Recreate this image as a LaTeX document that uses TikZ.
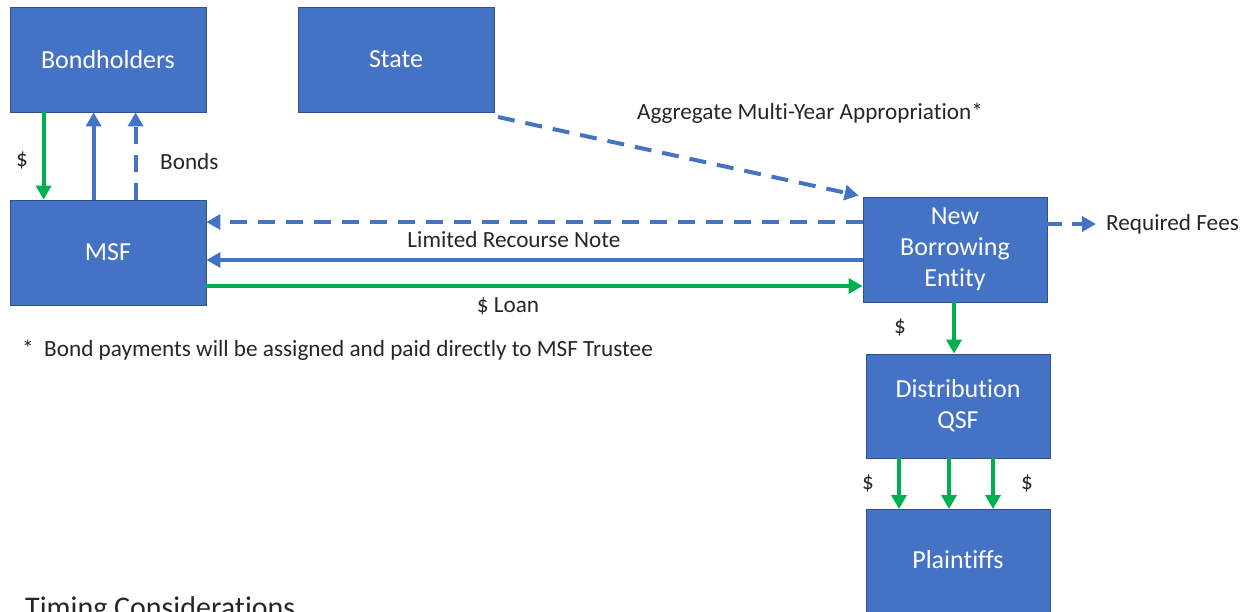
\documentclass[tikz,border=0pt]{standalone}
\usepackage{fontspec}
\setmainfont{Carlito}[Ligatures={NoCommon,NoContextual}]
\usetikzlibrary{arrows.meta,calc}
\definecolor{boxblue}{HTML}{4472C4}
\definecolor{boxedge}{HTML}{2F528F}
\definecolor{flowgreen}{HTML}{00B050}
\begin{document}
\begin{tikzpicture}[x=1pt,y=-1pt,
  entity/.style={draw=boxedge,line width=0.8pt,fill=boxblue,text=white,align=center,
    font=\fontsize{26}{31}\selectfont,inner sep=0pt},
  lbl/.style={font=\fontsize{23.2}{27}\selectfont,text=black!85,inner sep=0pt},
  bluearrow/.style={draw=boxblue,line width=4pt,-{Triangle[length=14pt,width=15pt]}},
  greenarrow/.style={draw=flowgreen,line width=4pt,-{Triangle[length=14pt,width=15pt]}},
  dasharrow/.style={bluearrow,dash pattern=on 17pt off 11pt}]
\useasboundingbox (0,0) rectangle (1250,611);
% boxes
\node[entity,minimum width=196pt,minimum height=105pt] (bond) at (108,59.5) {Bondholders};
\node[entity,minimum width=196pt,minimum height=105pt] (state) at (396,59.5) {State};
\node[entity,minimum width=196pt,minimum height=105pt] (msf) at (108,252.5) {MSF};
\node[entity,minimum width=184pt,minimum height=105pt] (nbe) at (955,249.5) {New\\Borrowing\\Entity};
\node[entity,minimum width=184pt,minimum height=104pt] (qsf) at (958,406) {Distribution\\QSF};
\node[entity,minimum width=184pt,minimum height=112pt,anchor=north] (plt) at (958,509) {};
\node[text=white,font=\fontsize{26}{31}\selectfont,inner sep=0pt] (pltlbl) at (958,560) {Plaintiffs};
% Bondholders <-> MSF
\draw[greenarrow] ([xshift=34pt]bond.south west) -- ([xshift=34pt]msf.north west);
\draw[bluearrow] ([xshift=84pt]msf.north west) -- ([xshift=84pt]bond.south west);
\draw[dasharrow] ([xshift=126pt]msf.north west) -- ([xshift=126pt]bond.south west);
\node[lbl] (dol1) at (22,160) {\$};
\node[lbl,anchor=west] (bondslbl) at (160,162) {Bonds};
% State -> NBE
\coordinate (stout) at (498,117);
\draw[dasharrow] (stout) -- ([xshift=-4pt,yshift=1pt]nbe.north west);
\node[lbl] (agg) at (810,113) {Aggregate Multi-Year Appropriation*};
% NBE <-> MSF
\draw[dasharrow] (nbe.west |- 0,222) -- (msf.east |- 0,222);
\draw[bluearrow] (nbe.west |- 0,260) -- (msf.east |- 0,260);
\node[lbl] (lrn) at (514,240) {Limited Recourse Note};
\draw[greenarrow] (msf.east |- 0,286) -- (nbe.west |- 0,286);
\node[lbl] (loan) at (508,306) {\$ Loan};
\node[lbl,anchor=west] (foot) at (22,350) {*\ \ Bond payments will be assigned and paid directly to MSF Trustee};
% Required fees
\node[lbl,anchor=west] (fees) at (1106,224) {Required Fees};
\draw[dasharrow,dash pattern=on 15pt off 10pt,shorten >=10pt] (nbe.east |- 0,224) -- (fees.west);
% NBE -> QSF
\draw[greenarrow] (nbe.south -| 954,0) -- (qsf.north -| 954,0);
\node[lbl] (dol2) at (900,327) {\$};
% QSF -> Plaintiffs
\draw[greenarrow] (qsf.south -| 899,0) -- (plt.north -| 899,0);
\draw[greenarrow] (qsf.south -| 949,0) -- (plt.north -| 949,0);
\draw[greenarrow] (qsf.south -| 993,0) -- (plt.north -| 993,0);
\node[lbl] (dol3) at (868,483) {\$};
\node[lbl] (dol4) at (1027,483) {\$};
% Timing
\node[font=\fontsize{30}{36}\selectfont,text=black!85,inner sep=0pt,anchor=base west] (timing) at (25,617) {Timing Considerations};
\end{tikzpicture}
\end{document}
